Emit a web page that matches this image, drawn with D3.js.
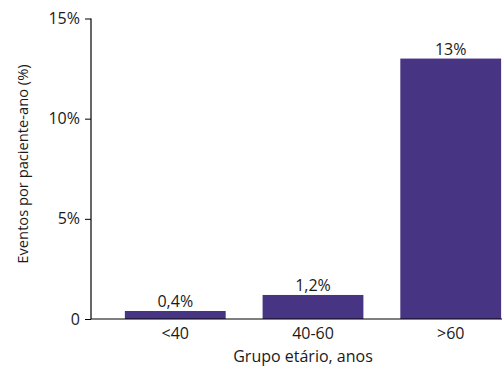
<!DOCTYPE html>
<html>
<head>
<meta charset="utf-8">
<script src="https://cdn.jsdelivr.net/npm/d3@7"></script>
<style>
  html, body { margin: 0; padding: 0; background: #fff; }
  svg { display: block; }
  text { font-family: "Open Sans", sans-serif; fill: #1a1a1a; }
</style>
</head>
<body>
<svg id="chart" width="502" height="367"></svg>
<script>
// Event rate per patient-year by age group
const categories = ["<40", "40-60", ">60"];
const values = [0.4, 1.2, 13];
const yTicks = [0, 5, 10, 15];
const yTitle = "Eventos por paciente-ano (%)";
const xTitle = "Grupo etário, anos";

const W = 502, H = 367;
const plotLeft = 91, plotTop = 18.5, plotBottom = 319, plotRight = 535;
const fontSize = "16px";

const svg = d3.select("#chart");

const x = d3.scaleBand()
  .domain(categories)
  .range([plotLeft, plotRight])
  .paddingInner(0.268)
  .paddingOuter(0.246);

const y = d3.scaleLinear()
  .domain([0, 15])
  .range([plotBottom, plotTop]);

const fmtVal = v => d3.format(v >= 10 ? ".0f" : ".1f")(v).replace(".", ",") + "%";
const fmtTick = v => v === 0 ? "0" : v + "%";

// bars
svg.append("g")
  .selectAll("rect")
  .data(values)
  .join("rect")
  .attr("x", (d, i) => x(categories[i]))
  .attr("y", d => y(d))
  .attr("width", x.bandwidth())
  .attr("height", d => y(0) - y(d))
  .attr("fill", "#473583");

// value labels
svg.append("g")
  .selectAll("text")
  .data(values)
  .join("text")
  .attr("x", (d, i) => x(categories[i]) + x.bandwidth() / 2)
  .attr("y", d => y(d) - 4)
  .attr("text-anchor", "middle")
  .style("font-size", fontSize)
  .text(d => fmtVal(d));

// y axis
const yAxis = svg.append("g")
  .attr("transform", `translate(${plotLeft},0)`)
  .call(d3.axisLeft(y).tickValues(yTicks).tickFormat(fmtTick).tickSize(6).tickPadding(5));
yAxis.select(".domain").attr("stroke", "#000").attr("stroke-width", 1.2).attr("d", `M0,${plotTop}V${plotBottom}`);
yAxis.selectAll(".tick line").attr("stroke", "#000");
yAxis.selectAll(".tick text").style("font-size", fontSize).style("font-family", "'Open Sans', sans-serif").attr("fill", "#1a1a1a");

// x axis
const xAxis = svg.append("g")
  .attr("transform", `translate(0,${plotBottom})`)
  .call(d3.axisBottom(x).tickSize(0).tickPadding(9));
xAxis.select(".domain").attr("stroke", "#000").attr("stroke-width", 1.2).attr("d", `M${plotLeft},0H${W}`);
xAxis.selectAll(".tick text").style("font-size", fontSize).style("font-family", "'Open Sans', sans-serif").attr("fill", "#1a1a1a");

// axis titles
svg.append("text")
  .attr("x", (plotLeft + plotRight) / 2 - 10)
  .attr("y", 362)
  .attr("text-anchor", "middle")
  .style("font-size", fontSize)
  .text(xTitle);

svg.append("text")
  .attr("transform", `translate(28,164) rotate(-90)`)
  .attr("text-anchor", "middle")
  .style("font-size", "14.7px")
  .text(yTitle);
</script>
</body>
</html>
